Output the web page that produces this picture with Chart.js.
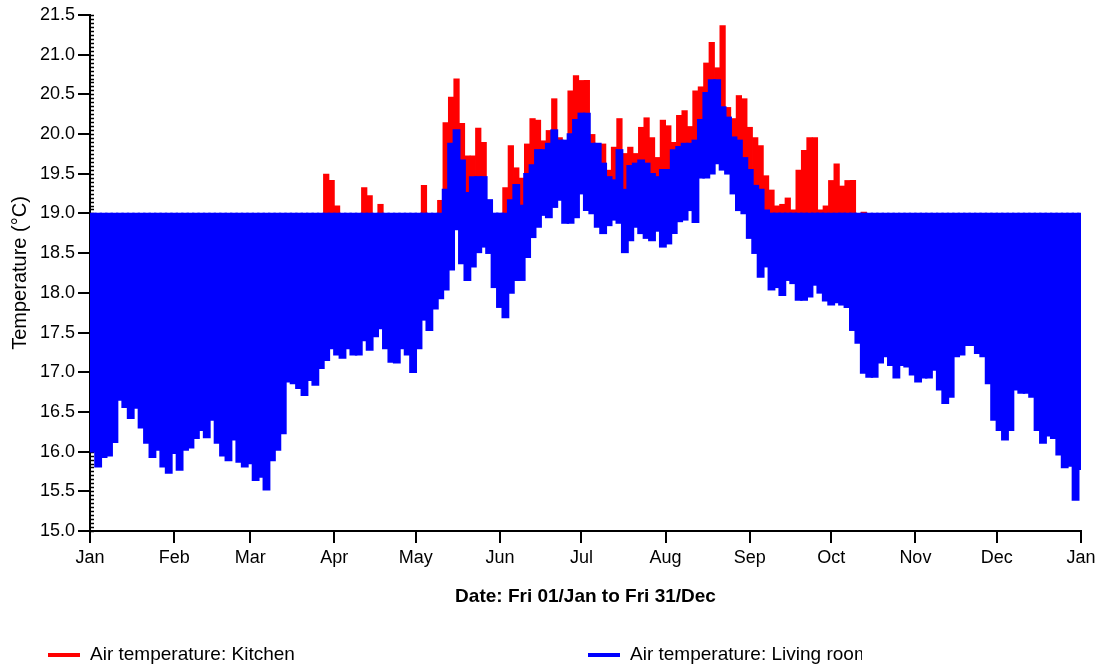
<!DOCTYPE html>
<html lang="en">
<head>
<meta charset="UTF-8">
<title>Air temperature - Kitchen / Living room</title>
<script src="https://cdn.jsdelivr.net/npm/chart.js"></script>
<style>
    body { margin: 0; background: #fff; }
    #wrap { width: 1102px; height: 668px; }
</style>
</head>
<body>
<div id="wrap"><canvas id="tempChart" width="1102" height="668"></canvas></div>
<script>
// Each sample covers two days: [min, max] of the hourly temperature in that window
const livingLow = [
    16.0, 15.81, 15.93, 15.95, 16.12, 16.65, 16.56, 16.42, 16.55, 16.3, 16.11, 15.93, 16.02, 15.81, 15.73, 15.98,
    15.77, 16.02, 16.05, 16.17, 16.27, 16.18, 16.4, 16.11, 15.95, 15.89, 16.15, 15.87, 15.81, 15.85, 15.64, 15.68,
    15.52, 15.89, 16.02, 16.23, 16.88, 16.86, 16.8, 16.71, 16.9, 16.84, 17.05, 17.15, 17.3, 17.22, 17.18, 17.3,
    17.22, 17.22, 17.4, 17.28, 17.45, 17.55, 17.3, 17.13, 17.12, 17.3, 17.22, 17.0, 17.3, 17.66, 17.53, 17.8,
    17.93, 18.04, 18.29, 18.8, 18.37, 18.16, 18.33, 18.51, 18.58, 18.5, 18.07, 17.82, 17.69, 18.0, 18.16, 18.16,
    18.45, 18.7, 18.83, 18.98, 18.95, 19.08, 19.17, 18.88, 18.88, 18.95, 19.25, 19.04, 19.0, 18.83, 18.75, 18.85,
    18.92, 18.88, 18.51, 18.66, 18.83, 18.75, 18.69, 18.66, 18.78, 18.58, 18.62, 18.75, 18.9, 18.92, 19.04, 18.89,
    19.45, 19.45, 19.5, 19.63, 19.55, 19.5, 19.25, 19.04, 19.0, 18.69, 18.5, 18.2, 18.33, 18.04, 18.07, 17.97,
    18.16, 18.12, 17.91, 17.91, 17.95, 18.1, 18.0, 17.9, 17.85, 17.88, 17.85, 17.82, 17.53, 17.37, 16.99, 16.94,
    16.94, 17.12, 17.2, 17.09, 16.93, 17.09, 17.07, 16.97, 16.88, 16.93, 16.93, 17.03, 16.78, 16.61, 16.69, 17.2,
    17.22, 17.34, 17.34, 17.24, 17.2, 16.86, 16.4, 16.27, 16.15, 16.27, 16.78, 16.74, 16.74, 16.69, 16.27, 16.11,
    16.2, 16.17, 15.96, 15.8, 15.82, 15.39, 15.78
];
const livingHigh = [
    19.0, 19.0, 19.0, 19.0, 19.0, 19.0, 19.0, 19.0, 19.0, 19.0, 19.0, 19.0, 19.0, 19.0, 19.0, 19.0,
    19.0, 19.0, 19.0, 19.0, 19.0, 19.0, 19.0, 19.0, 19.0, 19.0, 19.0, 19.0, 19.0, 19.0, 19.0, 19.0,
    19.0, 19.0, 19.0, 19.0, 19.0, 19.0, 19.0, 19.0, 19.0, 19.0, 19.0, 19.0, 19.0, 19.0, 19.0, 19.0,
    19.0, 19.0, 19.0, 19.0, 19.0, 19.0, 19.0, 19.0, 19.0, 19.0, 19.0, 19.0, 19.0, 19.0, 19.0, 19.0,
    19.0, 19.3, 19.88, 20.05, 19.67, 19.26, 19.46, 19.46, 19.46, 19.17, 19.0, 19.0, 19.0, 19.17, 19.36, 19.1,
    19.5, 19.61, 19.8, 19.8, 19.88, 20.05, 19.92, 19.92, 20.0, 20.18, 20.26, 20.26, 19.88, 19.88, 19.63, 19.46,
    19.42, 19.8, 19.3, 19.6, 19.63, 19.67, 19.63, 19.5, 19.46, 19.55, 19.55, 19.8, 19.84, 19.88, 19.88, 19.92,
    20.18, 20.52, 20.68, 20.68, 20.34, 20.21, 19.96, 19.92, 19.7, 19.55, 19.35, 19.3, 19.04, 19.0, 19.0, 19.0,
    19.0, 19.0, 19.0, 19.0, 19.0, 19.0, 19.0, 19.0, 19.0, 19.0, 19.0, 19.0, 19.0, 19.0, 19.0, 19.0,
    19.0, 19.0, 19.0, 19.0, 19.0, 19.0, 19.0, 19.0, 19.0, 19.0, 19.0, 19.0, 19.0, 19.0, 19.0, 19.0,
    19.0, 19.0, 19.0, 19.0, 19.0, 19.0, 19.0, 19.0, 19.0, 19.0, 19.0, 19.0, 19.0, 19.0, 19.0, 19.0,
    19.0, 19.0, 19.0, 19.0, 19.0, 19.0, 19.0
];
const kitchenLow = [
    16.0, 15.81, 15.93, 15.95, 16.12, 16.65, 16.56, 16.42, 16.55, 16.3, 16.11, 15.93, 16.02, 15.81, 15.73, 15.98,
    15.77, 16.02, 16.05, 16.17, 16.27, 16.18, 16.4, 16.11, 15.95, 15.89, 16.15, 15.87, 15.81, 15.85, 15.64, 15.68,
    15.52, 15.89, 16.02, 16.23, 16.88, 16.86, 16.8, 16.71, 16.9, 16.84, 17.05, 17.15, 17.3, 17.22, 17.18, 17.3,
    17.22, 17.22, 17.4, 17.28, 17.45, 17.55, 17.3, 17.13, 17.12, 17.3, 17.22, 17.0, 17.3, 17.66, 17.53, 17.8,
    17.93, 18.04, 18.29, 18.8, 18.37, 18.16, 18.33, 18.51, 18.58, 18.5, 18.07, 17.82, 17.69, 18.0, 18.16, 18.16,
    18.45, 18.7, 18.83, 18.98, 18.95, 19.08, 19.17, 18.88, 18.88, 18.95, 19.25, 19.04, 19.0, 18.83, 18.75, 18.85,
    18.92, 18.88, 18.51, 18.66, 18.83, 18.75, 18.69, 18.66, 18.78, 18.58, 18.62, 18.75, 18.9, 18.92, 19.04, 18.89,
    19.45, 19.45, 19.5, 19.63, 19.55, 19.5, 19.25, 19.04, 19.0, 18.69, 18.5, 18.2, 18.33, 18.04, 18.07, 17.97,
    18.16, 18.12, 17.91, 17.91, 17.95, 18.1, 18.0, 17.9, 17.85, 17.88, 17.85, 17.82, 17.53, 17.37, 16.99, 16.94,
    16.94, 17.12, 17.2, 17.09, 16.93, 17.09, 17.07, 16.97, 16.88, 16.93, 16.93, 17.03, 16.78, 16.61, 16.69, 17.2,
    17.22, 17.34, 17.34, 17.24, 17.2, 16.86, 16.4, 16.27, 16.15, 16.27, 16.78, 16.74, 16.74, 16.69, 16.27, 16.11,
    16.2, 16.17, 15.96, 15.8, 15.82, 15.39, 15.78
];
const kitchenHigh = [
    19.0, 19.0, 19.0, 19.0, 19.0, 19.0, 19.0, 19.0, 19.0, 19.0, 19.0, 19.0, 19.0, 19.0, 19.0, 19.0,
    19.0, 19.0, 19.0, 19.0, 19.0, 19.0, 19.0, 19.0, 19.0, 19.0, 19.0, 19.0, 19.0, 19.0, 19.0, 19.0,
    19.0, 19.0, 19.0, 19.0, 19.0, 19.0, 19.0, 19.0, 19.0, 19.0, 19.0, 19.5, 19.42, 19.1, 19.0, 19.0,
    19.0, 19.0, 19.33, 19.23, 19.0, 19.12, 19.0, 19.0, 19.0, 19.0, 19.0, 19.0, 19.0, 19.36, 19.0, 19.0,
    19.17, 20.15, 20.47, 20.7, 20.14, 19.73, 19.73, 20.08, 19.9, 19.17, 19.0, 19.0, 19.33, 19.86, 19.58, 19.45,
    19.88, 20.2, 20.18, 19.92, 20.05, 20.45, 19.96, 19.92, 20.55, 20.74, 20.68, 20.68, 20.0, 19.88, 19.88, 19.55,
    19.84, 20.2, 19.76, 19.84, 19.76, 20.09, 20.21, 19.96, 19.71, 20.18, 20.11, 19.9, 20.24, 20.3, 20.1, 20.55,
    20.6, 20.9, 21.16, 20.84, 21.37, 20.34, 20.2, 20.49, 20.45, 20.09, 19.96, 19.86, 19.48, 19.3, 19.1, 19.12,
    19.2, 19.05, 19.55, 19.8, 19.96, 19.96, 19.05, 19.1, 19.42, 19.63, 19.35, 19.42, 19.42, 19.0, 19.02, 19.0,
    19.0, 19.0, 19.0, 19.0, 19.0, 19.0, 19.0, 19.0, 19.0, 19.0, 19.0, 19.0, 19.0, 19.0, 19.0, 19.0,
    19.0, 19.0, 19.0, 19.0, 19.0, 19.0, 19.0, 19.0, 19.0, 19.0, 19.0, 19.0, 19.0, 19.0, 19.0, 19.0,
    19.0, 19.0, 19.0, 19.0, 19.0, 19.0, 19.0
];

const daysPerSample = 2;
const monthStarts = [0, 31, 59, 90, 120, 151, 181, 212, 243, 273, 304, 334, 365];
const monthLabels = ['Jan', 'Feb', 'Mar', 'Apr', 'May', 'Jun', 'Jul', 'Aug', 'Sep', 'Oct', 'Nov', 'Dec', 'Jan'];

const FONT = "'Liberation Sans', Arial, sans-serif";
Chart.defaults.font.family = FONT;
Chart.defaults.color = '#000';

// floating bars: one bar per two-day window, centred in the window
function toBars(lo, hi) {
    return lo.map((v, i) => ({ x: i * daysPerSample + daysPerSample / 2, y: [v, hi[i]] }));
}

// small ticks every 0.05 on the inner side of the temperature axis
const minorTicks = {
    id: 'minorTicks',
    beforeDatasetsDraw(chart) {
        const { ctx, chartArea, scales: { y } } = chart;
        ctx.save();
        ctx.strokeStyle = '#000';
        ctx.lineWidth = 1.5;
        for (let k = 0; k <= 130; k++) {
            const py = Math.round(y.getPixelForValue(15 + k * 0.05)) + 0.5;
            ctx.beginPath();
            ctx.moveTo(chartArea.left, py);
            ctx.lineTo(chartArea.left + 4, py);
            ctx.stroke();
        }
        ctx.restore();
    }
};

// legend row along the bottom; each entry has a fixed-width slot
const legendRow = {
    id: 'legendRow',
    afterDraw(chart) {
        const ctx = chart.ctx;
        const slots = [48, 588];
        const slotWidth = 274;
        const yMid = 655;
        ctx.save();
        ctx.font = '19px ' + FONT;
        ctx.textBaseline = 'middle';
        chart.data.datasets.forEach((ds, i) => {
            const x0 = slots[i];
            ctx.save();
            ctx.beginPath();
            ctx.rect(x0, yMid - 14, slotWidth, 28);
            ctx.clip();
            ctx.strokeStyle = ds.backgroundColor;
            ctx.lineWidth = 4;
            ctx.beginPath();
            ctx.moveTo(x0, yMid);
            ctx.lineTo(x0 + 32, yMid);
            ctx.stroke();
            ctx.fillStyle = '#000';
            ctx.fillText(ds.label, x0 + 42, yMid);
            ctx.restore();
        });
        ctx.restore();
    }
};

const ctx = document.getElementById('tempChart').getContext('2d');
new Chart(ctx, {
    type: 'bar',
    data: {
        datasets: [
            {
                label: 'Air temperature: Kitchen',
                data: toBars(kitchenLow, kitchenHigh),
                backgroundColor: '#ff0000',
                order: 2
            },
            {
                label: 'Air temperature: Living room',
                data: toBars(livingLow, livingHigh),
                backgroundColor: '#0000ff',
                inflateAmount: 0.8,
                order: 1
            }
        ]
    },
    options: {
        responsive: false,
        animation: false,
        layout: { padding: { left: 0, right: 21, top: 15, bottom: 57 } },
        datasets: {
            bar: {
                grouped: false,
                barPercentage: 1.15,
                categoryPercentage: 1,
                borderWidth: 0
            }
        },
        plugins: {
            legend: { display: false },
            tooltip: { enabled: false }
        },
        scales: {
            x: {
                type: 'linear',
                min: 0,
                max: 365,
                offset: false,
                afterBuildTicks: scale => {
                    scale.ticks = monthStarts.map(v => ({ value: v }));
                },
                afterFit: scale => { scale.height = 80; },
                ticks: {
                    autoSkip: false,
                    maxRotation: 0,
                    padding: 4,
                    font: { size: 18 },
                    callback: (v, i) => monthLabels[i]
                },
                grid: {
                    offset: false,
                    drawOnChartArea: false,
                    drawTicks: true,
                    tickLength: 12,
                    color: '#000',
                    lineWidth: 2
                },
                border: { display: true, color: '#000', width: 2 },
                title: {
                    display: true,
                    text: 'Date: Fri 01/Jan to Fri 31/Dec',
                    font: { size: 19, weight: 'bold' },
                    padding: { top: 4, bottom: 3 }
                }
            },
            y: {
                min: 15,
                max: 21.5,
                afterFit: scale => { scale.width = 90; },
                ticks: {
                    stepSize: 0.5,
                    padding: 3,
                    font: { size: 18 },
                    callback: v => v.toFixed(1)
                },
                grid: {
                    offset: false,
                    drawOnChartArea: false,
                    drawTicks: true,
                    tickLength: 12,
                    color: '#000',
                    lineWidth: 2
                },
                border: { display: true, color: '#000', width: 2 },
                title: {
                    display: true,
                    text: 'Temperature (°C)',
                    font: { size: 20 },
                    padding: { top: 8, bottom: 0 }
                }
            }
        }
    },
    plugins: [minorTicks, legendRow]
});
</script>
</body>
</html>
